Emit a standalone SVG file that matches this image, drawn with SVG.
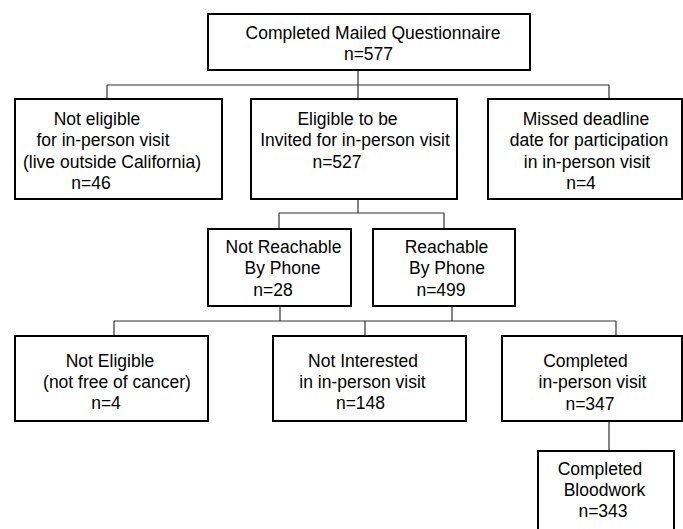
<svg xmlns="http://www.w3.org/2000/svg" width="683" height="529" viewBox="0 0 683 529">
<style>
.box{fill:#fff;stroke:#000;stroke-width:2}
.con{fill:none;stroke:#333;stroke-width:1.2}
text{font-family:"Liberation Sans",Arial,sans-serif;font-size:17.5px;fill:#000;text-anchor:middle}
</style>
<rect width="683" height="529" fill="#fff"/>
<g id="connectors" class="con">
<path d="M358 70V99M107 85H609M107 85V99M609 85V99"/>
<path d="M358 199V213M279 213H444M279 213V229M444 213V229"/>
<path d="M280 307V321M452 307V321M114 321H616M114 321V336M365 321V336M616 321V336"/>
<path d="M609 421V451"/>
</g>
<g id="n_mailed">
<rect class="box" x="208" y="14" width="322" height="56"/>
<text x="373" y="39">Completed Mailed Questionnaire</text>
<text x="368.5" y="60">n=577</text>
</g>
<g id="n_not_eligible_ca">
<rect class="box" x="15" y="99" width="207" height="100"/>
<text x="97" y="125">Not eligible</text>
<text x="103" y="146">for in-person visit</text>
<text x="112" y="168">(live outside California)</text>
<text x="91" y="189">n=46</text>
</g>
<g id="n_eligible">
<rect class="box" x="251" y="99" width="206" height="100"/>
<text x="347.5" y="125">Eligible to be</text>
<text x="355" y="146">Invited for in-person visit</text>
<text x="337" y="168">n=527</text>
</g>
<g id="n_missed">
<rect class="box" x="488" y="99" width="194" height="100"/>
<text x="586" y="125">Missed deadline</text>
<text x="589" y="146">date for participation</text>
<text x="587" y="168">in in-person visit</text>
<text x="581" y="189">n=4</text>
</g>
<g id="n_not_reachable">
<rect class="box" x="208" y="229" width="143" height="77"/>
<text x="283.5" y="253">Not Reachable</text>
<text x="282.5" y="274">By Phone</text>
<text x="273" y="296">n=28</text>
</g>
<g id="n_reachable">
<rect class="box" x="373" y="229" width="142" height="77"/>
<text x="446.5" y="253">Reachable</text>
<text x="447" y="274">By Phone</text>
<text x="441" y="296">n=499</text>
</g>
<g id="n_not_eligible_cancer">
<rect class="box" x="15" y="336" width="193" height="85"/>
<text x="110" y="367">Not Eligible</text>
<text x="117" y="388">(not free of cancer)</text>
<text x="106" y="409">n=4</text>
</g>
<g id="n_not_interested">
<rect class="box" x="273" y="336" width="193" height="85"/>
<text x="363" y="367">Not Interested</text>
<text x="362.5" y="388">in in-person visit</text>
<text x="360.5" y="409">n=148</text>
</g>
<g id="n_completed_visit">
<rect class="box" x="502" y="336" width="180" height="85"/>
<text x="585.5" y="367">Completed</text>
<text x="592.5" y="388">in-person visit</text>
<text x="590" y="410">n=347</text>
</g>
<g id="n_bloodwork">
<rect class="box" x="538" y="451" width="136" height="80"/>
<text x="600" y="475">Completed</text>
<text x="604.5" y="496">Bloodwork</text>
<text x="603" y="517">n=343</text>
</g>
</svg>
